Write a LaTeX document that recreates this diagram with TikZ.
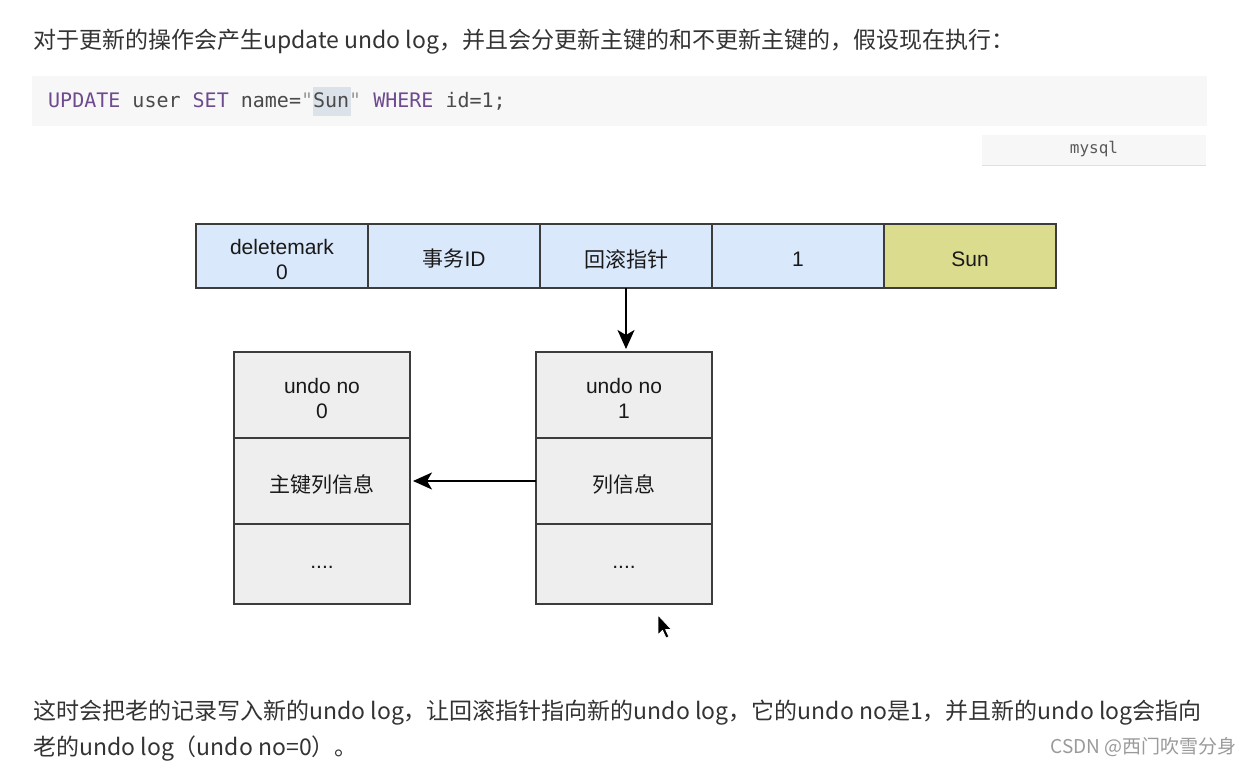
\documentclass[tikz,border=0pt]{standalone}
\usepackage{fontspec}
\newfontfamily\cjk{Noto Sans CJK SC}
\newfontfamily\hel{Liberation Sans}
\newfontfamily\code{DejaVu Sans Mono}
\usetikzlibrary{arrows.meta}
\definecolor{bodytext}{HTML}{333333}
\definecolor{kw}{HTML}{6E4A8E}
\definecolor{codetx}{HTML}{4A4A4A}
\definecolor{quote}{HTML}{9A9A9A}
\definecolor{codebg}{HTML}{F7F7F7}
\definecolor{hlbg}{HTML}{DCE2EA}
\definecolor{cellblue}{HTML}{DAE8FC}
\definecolor{cellyellow}{HTML}{DCDC8F}
\definecolor{cellgray}{HTML}{EEEEEE}
\definecolor{stroke}{HTML}{3C3C3C}
\definecolor{wm}{HTML}{9A9A9A}
\newcommand{\cellcjk}{\cjk\fontsize{21}{25}\selectfont}
\begin{document}
\begin{tikzpicture}[x=1pt,y=-1pt,
  bodystyle/.style={anchor=base west,inner sep=0pt,text=bodytext,font=\cjk\fontsize{23}{28}\selectfont},
  celltext/.style={yshift=-3pt,inner sep=0pt,align=center,font=\hel\fontsize{21}{25}\selectfont,text=black!90},
  cellbox/.style={draw=stroke,line width=1.6pt,minimum width=172pt,minimum height=64pt,inner sep=0pt,outer sep=0pt,
    label={[celltext]center:#1}},
  undobox/.style={draw=stroke,line width=1.6pt,fill=cellgray,minimum width=176pt,inner sep=0pt,outer sep=0pt,
    label={[celltext]center:#1}},
  conn/.style={-{Stealth[length=19pt,width=17pt,inset=5pt]},line width=1.8pt,draw=black,shorten >=3pt}]
\useasboundingbox (0,0) rectangle (1252,765);
\fill[white] (0,0) rectangle (1252,765);

% top text
\node[bodystyle] (t1) at (33,49) {对于更新的操作会产生update undo log，并且会分更新主键的和不更新主键的，假设现在执行：};

% code block
\fill[codebg] (32,76) rectangle (1207,126);
\fill[hlbg] (313,87) rectangle (351,116);
\node[anchor=base west,inner sep=0pt,font=\code\fontsize{20}{24}\selectfont,text=codetx] (code) at (48,108)
  {\textcolor{kw}{UPDATE} user \textcolor{kw}{SET} name=\textcolor{quote}{"}Sun\textcolor{quote}{"} \textcolor{kw}{WHERE} id=1;};

% mysql tag
\fill[black!12] (982,135) rectangle (1206,166);
\node[fill=codebg,minimum width=224pt,minimum height=30pt,inner sep=0pt,font=\code\fontsize{16}{18}\selectfont,text=black!65] (tag) at (1094,149.5) {mysql};

% top record row
\node[cellbox={deletemark\\0},fill=cellblue] (c1) at (282,256) {};
\node[cellbox={{\cellcjk 事务}ID},fill=cellblue] (c2) at (454,256) {};
\node[cellbox={{\cellcjk 回滚指针}},fill=cellblue] (c3) at (626,256) {};
\node[cellbox={1},fill=cellblue] (c4) at (798,256) {};
\node[cellbox={Sun},fill=cellyellow] (c5) at (970,256) {};

% undo log 0
\node[undobox={undo no\\0},minimum height=86pt] (u0a) at (322,395) {};
\node[undobox={{\cellcjk 主键列信息}},minimum height=86pt] (u0b) at (322,481) {};
\node[undobox={....},minimum height=80pt] (u0c) at (322,564) {};

% undo log 1
\node[undobox={undo no\\1},minimum height=86pt] (u1a) at (624,395) {};
\node[undobox={{\cellcjk 列信息}},minimum height=86pt] (u1b) at (624,481) {};
\node[undobox={....},minimum height=80pt] (u1c) at (624,564) {};

% connectors
\draw[conn] (c3.south) -- (c3.south |- u1a.north);
\draw[conn] (u1b.west) -- (u0b.east);

% cursor
\filldraw[fill=black,draw=white,line width=0.8pt,line join=round]
  (658,615) -- (658,635) -- (662.5,630.5) -- (666,638) -- (669,636.8) -- (665.6,629.5) -- (671.5,629.5) -- cycle;

% bottom text
\node[bodystyle] (b1) at (33,719) {这时会把老的记录写入新的undo log，让回滚指针指向新的undo log，它的undo no是1，并且新的undo log会指向};
\node[bodystyle] (b2) at (33,755) {老的undo log（undo no=0）。};

% watermark
\node[anchor=base east,inner sep=0pt,text=wm,font=\cjk\fontsize{19}{22}\selectfont] (wmk) at (1237,753) {CSDN @西门吹雪分身};
\end{tikzpicture}
\end{document}
